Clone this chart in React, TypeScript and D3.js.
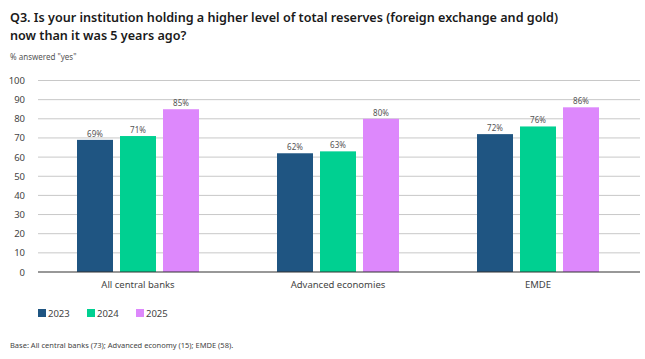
import React from "react";
import * as d3 from "d3";

const categories = ["All central banks", "Advanced economies", "EMDE"];
const seriesNames = ["2023", "2024", "2025"];
const values2023 = [69, 62, 72];
const values2024 = [71, 63, 76];
const values2025 = [85, 80, 86];
const yTicks = [0, 10, 20, 30, 40, 50, 60, 70, 80, 90, 100];
const colors = ["#1f5582", "#00d091", "#dd88fc"];

const W = 645, H = 359;
const FONT = "'Noto Sans', 'Open Sans', sans-serif";

export default function App() {
  const series = [values2023, values2024, values2025];
  const x = d3.scaleBand<string>().domain(categories).range([38, 638]).padding(0);
  const inner = d3.scaleBand<string>().domain(seriesNames).range([39, 161]).paddingInner(7 / 43).paddingOuter(0);
  const y = d3.scaleLinear().domain([0, 100]).range([272, 80.5]);

  return (
    <svg width={W} height={H} style={{ position: "absolute", left: 0, top: 0, background: "#fff" }} fontFamily={FONT}>
      <text x={10} y={22} fontSize={12.6} fontWeight={600} fill="#1a1a1a">Q3. Is your institution holding a higher level of total reserves (foreign exchange and gold)</text>
      <text x={10} y={40} fontSize={12.6} fontWeight={600} fill="#1a1a1a">now than it was 5 years ago?</text>
      <text x={10} y={60} fontSize={8} fill="#555">% answered "yes"</text>

      {yTicks.map((t) => (
        <g key={t}>
          {t > 0 && <line x1={38} x2={640} y1={y(t)} y2={y(t)} stroke="#c8c8c8" strokeWidth={1} />}
          <text x={25} y={y(t) + 3.5} fontSize={9.5} textAnchor="end" fill="#444">{t}</text>
        </g>
      ))}

      {categories.map((c, ci) => (
        <g key={c} transform={`translate(${x(c)!},0)`}>
          {seriesNames.map((s, si) => {
            const v = series[si][ci];
            const bx = inner(s)!;
            return (
              <g key={s}>
                <rect x={bx} y={y(v)} width={inner.bandwidth()} height={y(0) - y(v)} fill={colors[si]} />
                <text x={bx + inner.bandwidth() / 2} y={y(v) - 3} fontSize={8} textAnchor="middle" fill="#555">{v}%</text>
              </g>
            );
          })}
          <text x={x.bandwidth() / 2} y={288} fontSize={9.5} textAnchor="middle" fill="#444">{c}</text>
        </g>
      ))}
      <line x1={38} x2={640} y1={y(0)} y2={y(0)} stroke="#333" strokeWidth={1.2} />

      {seriesNames.map((s, i) => (
        <g key={s} transform={`translate(${38 + i * 49},0)`}>
          <rect x={0} y={309} width={8} height={8} fill={colors[i]} />
          <text x={10} y={317} fontSize={9.5} fill="#444">{s}</text>
        </g>
      ))}

      <text x={10} y={348} fontSize={7.5} fill="#444">Base: All central banks (73); Advanced economy (15); EMDE (58).</text>
    </svg>
  );
}
